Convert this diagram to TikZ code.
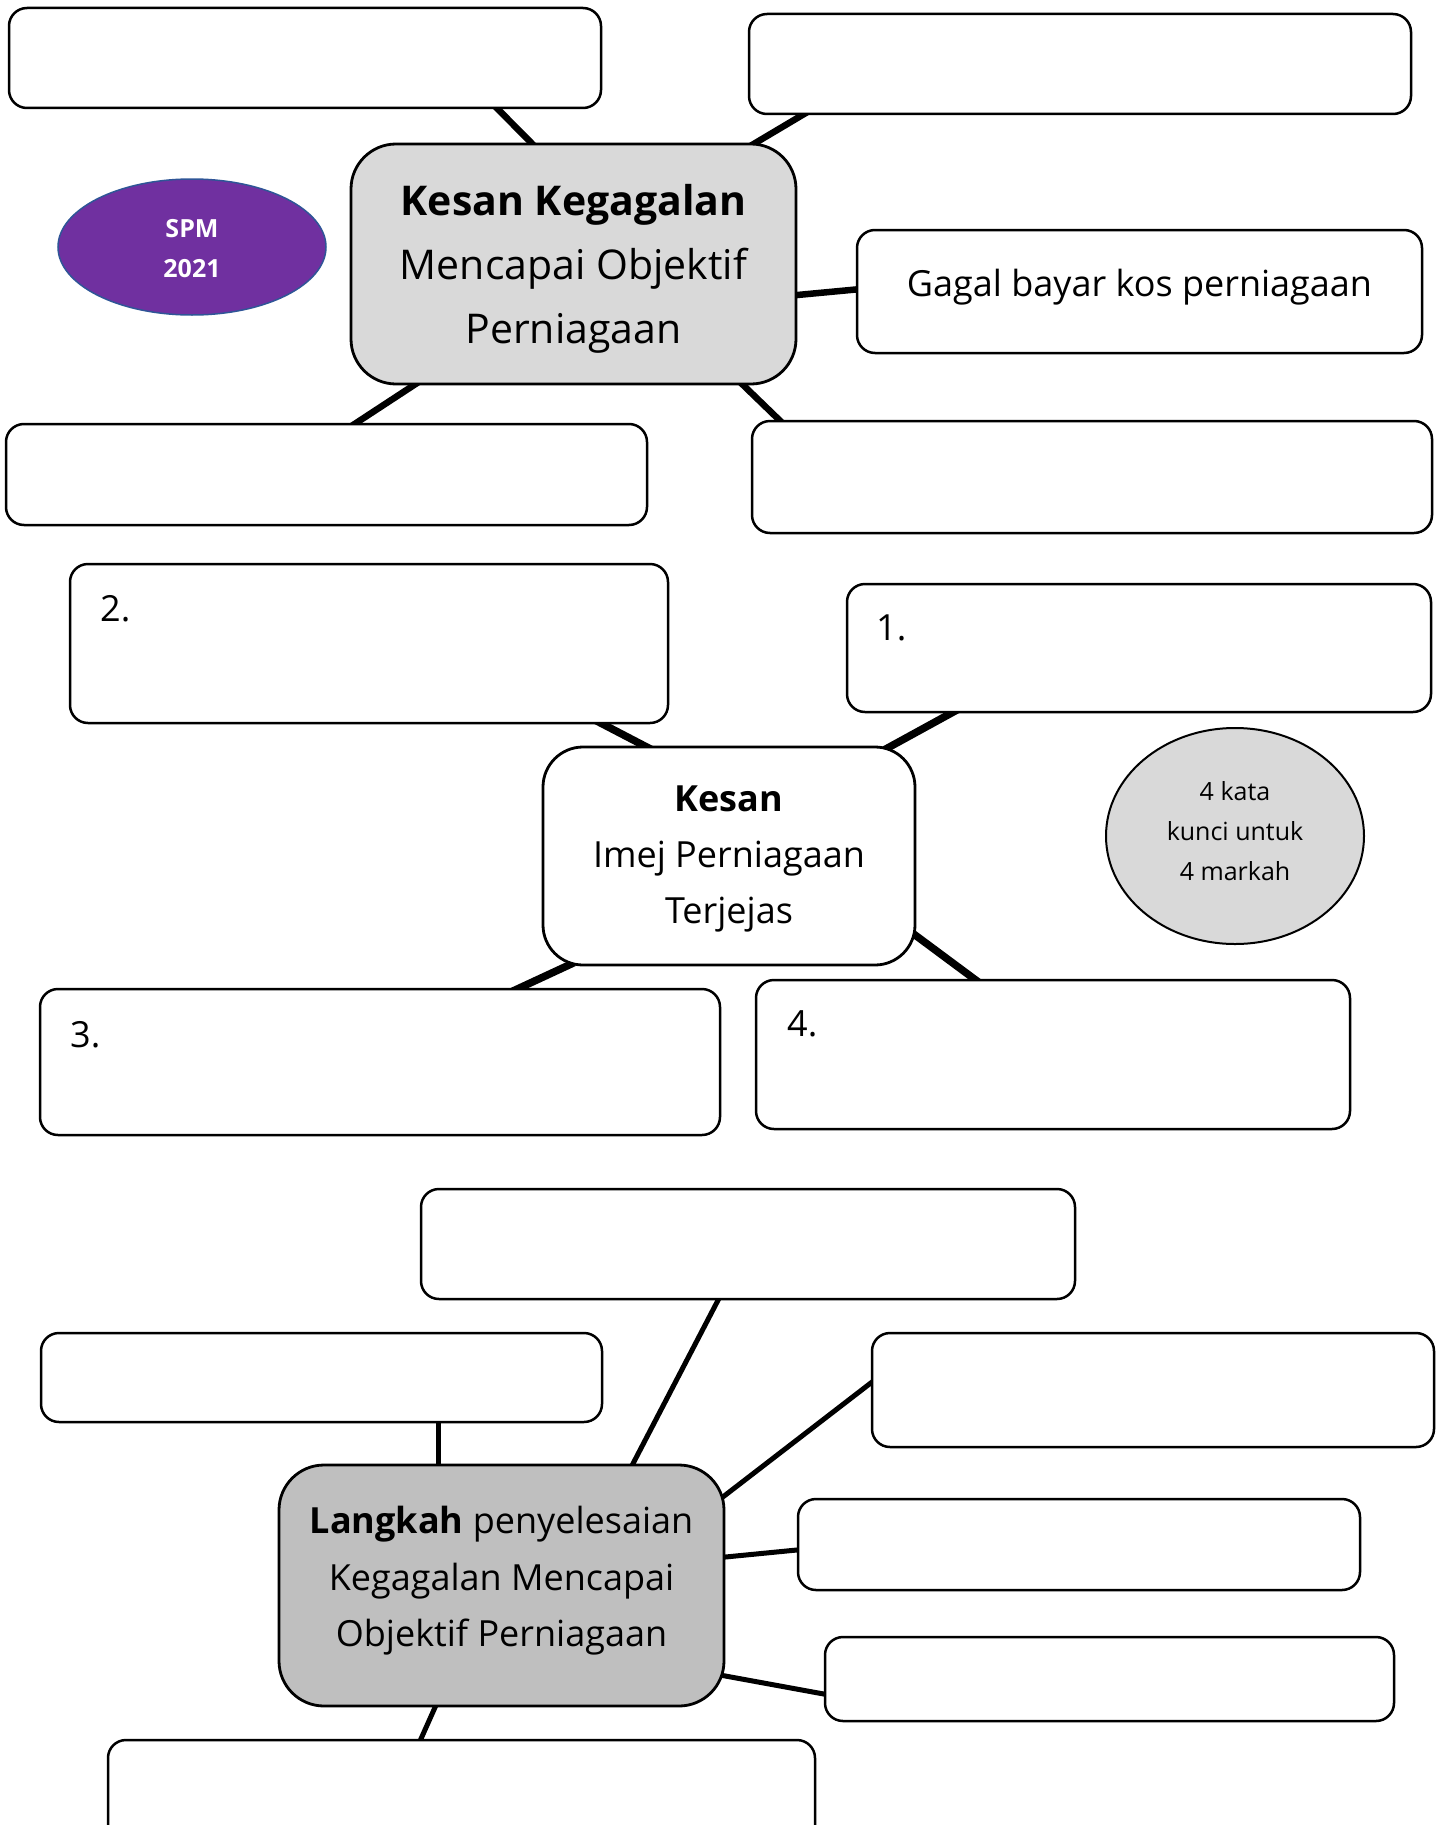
\documentclass[tikz,border=0pt]{standalone}
\usepackage{fontspec}
\setmainfont{Open Sans}
\usetikzlibrary{calc,shapes.geometric}
\pgfdeclarelayer{back}
\pgfdeclarelayer{bg}
\pgfsetlayers{back,bg,main}
\definecolor{lgray}{HTML}{D9D9D9}
\definecolor{mgray}{HTML}{BFBFBF}
\definecolor{spmpurple}{HTML}{7030A0}
\definecolor{spmblue}{HTML}{2F5597}
\begin{document}
\begin{tikzpicture}[x=1pt,y=-1pt,
  box/.style={draw, line width=2.5pt, rounded corners=18pt, fill=white, inner sep=0pt},
  bigbox/.style={draw, line width=2.8pt, rounded corners=45pt, inner sep=0pt, align=center},
  conn/.style={line width=#1, shorten <=-9pt, shorten >=-9pt},
  conn/.default=6.5pt,
  numlab/.style={anchor=west, inner sep=0pt, font=\fontsize{36}{40}\selectfont}]
\clip (0,0) rectangle (1442,1825);
\begin{pgfonlayer}{back}
\fill[white] (0,0) rectangle (1442,1825);
\end{pgfonlayer}

% ---------- top section ----------
\node[box, minimum width=592pt, minimum height=100pt] (tl) at (305,58) {};
\node[box, minimum width=662pt, minimum height=100pt] (tr) at (1080,64) {};
\node[bigbox, fill=lgray, minimum width=445pt, minimum height=240pt] (c1) at (573.5,264) {};
\node[align=center, inner sep=0pt, font=\fontsize{41}{64}\selectfont] (c1t) at (573.5,269)
  {\textbf{Kesan Kegagalan}\\Mencapai Objektif\\Perniagaan};
\node[draw=spmblue, line width=1.5pt, fill=spmpurple, ellipse, minimum width=268pt, minimum height=136pt, inner sep=0pt] (spm) at (192,247) {};
\node[align=center, inner sep=0pt, text=white, font=\bfseries\fontsize{25}{40}\selectfont] (spmt) at (192,249) {SPM\\2021};
\node[box, minimum width=565pt, minimum height=123pt] (gagal) at (1139.5,291.5) {};
\node[inner sep=0pt, font=\fontsize{36}{40}\selectfont] (gagalt) at (1139.5,287) {Gagal bayar kos perniagaan};
\node[box, minimum width=641pt, minimum height=101pt] (bl) at (326.5,474.5) {};
\node[box, minimum width=680pt, minimum height=112pt] (br) at (1092,477) {};

% ---------- middle section ----------
\node[box, minimum width=598pt, minimum height=159pt] (b2) at (369,643.5) {};
\node[numlab] (b2t) at (100,609) {2.};
\node[box, minimum width=584pt, minimum height=128pt] (b1) at (1139,648) {};
\node[numlab] (b1t) at (876,628) {1.};
\node[bigbox, fill=white, rounded corners=40pt, minimum width=372pt, minimum height=218pt] (c2) at (729,856) {};
\node[align=center, inner sep=0pt, font=\fontsize{36}{56}\selectfont] (c2t) at (729,859)
  {\textbf{Kesan}\\Imej Perniagaan\\Terjejas};
\node[draw, line width=2pt, fill=lgray, ellipse, minimum width=258pt, minimum height=216pt, inner sep=0pt] (kunci) at (1235,836) {};
\node[align=center, inner sep=0pt, font=\fontsize{25}{40}\selectfont] (kuncit) at (1235,831) {4 kata\\kunci untuk\\4 markah};
\node[box, minimum width=680pt, minimum height=146pt] (b3) at (380,1062) {};
\node[numlab] (b3t) at (70,1035) {3.};
\node[box, minimum width=594pt, minimum height=149pt] (b4) at (1053,1054.5) {};
\node[numlab] (b4t) at (787,1024) {4.};

% ---------- bottom section ----------
\node[box, minimum width=654pt, minimum height=110pt] (top) at (748,1244) {};
\node[box, minimum width=561pt, minimum height=89pt] (left) at (321.5,1377.5) {};
\node[box, minimum width=562pt, minimum height=114pt] (r1) at (1153,1390) {};
\node[box, minimum width=562pt, minimum height=91pt] (r2) at (1079,1544.5) {};
\node[box, minimum width=569pt, minimum height=84pt] (r3) at (1109.5,1679) {};
\node[box, minimum width=707pt, minimum height=130pt] (bot) at (461.5,1805) {};
\node[bigbox, fill=mgray, minimum width=445pt, minimum height=241pt] (c3) at (501.5,1585.5) {};
\node[align=center, inner sep=0pt, font=\fontsize{36}{56.5}\selectfont] (c3t) at (501.5,1581)
  {\textbf{Langkah} penyelesaian\\Kegagalan Mencapai\\Objektif Perniagaan};

% ---------- connectors ----------
\begin{pgfonlayer}{bg}
\draw[conn] ($(tl.south)+(193,0)$) -- ($(c1.north)+(-42.5,0)$);
\draw[conn] ($(tr.south)+(-278,0)$) -- ($(c1.north)+(182.5,0)$);
\draw[conn] ($(c1.east)+(0,31)$) -- ($(gagal.west)+(0,-2)$);
\draw[conn] ($(c1.south)+(-160,0)$) -- ($(bl.north)+(30,0)$);
\draw[conn] ($(c1.south)+(170,0)$) -- ($(br.north)+(-313,0)$);

\draw[conn=7.5pt] ($(b2.south)+(234,0)$) -- ($(c2.north)+(-85,0)$);
\draw[conn=7.5pt] ($(b1.south)+(-188,0)$) -- ($(c2.north)+(163,0)$);
\draw[conn=7.5pt] ($(c2.south)+(-163,0)$) -- ($(b3.north)+(140,0)$);
\draw[conn=7.5pt] ($(c2.east)+(0,80)$) -- ($(b4.north)+(-79,0)$);

\draw[conn=5pt] ($(top.south)+(-30,0)$) -- ($(c3.north)+(131.5,0)$);
\draw[conn=5pt] ($(left.south)+(116.5,0)$) -- ($(c3.north)+(-63.5,0)$);
\draw[conn=5pt] ($(c3.east)+(0,-90.5)$) -- ($(r1.west)+(0,-7)$);
\draw[conn=5pt] ($(c3.east)+(0,-28.5)$) -- ($(r2.west)+(0,5.5)$);
\draw[conn=5pt] ($(c3.east)+(0,90.5)$) -- ($(r3.west)+(0,15)$);
\draw[conn=5pt] ($(c3.south)+(-66.5,0)$) -- ($(bot.north)+(-40.5,0)$);
\end{pgfonlayer}
\end{tikzpicture}
\end{document}
